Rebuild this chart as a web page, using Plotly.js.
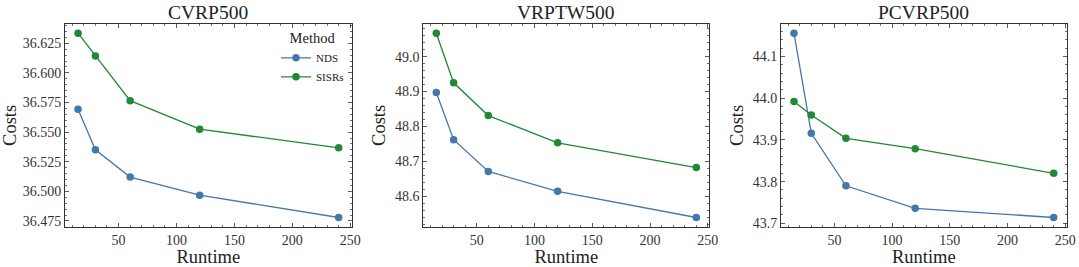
<!DOCTYPE html>
<html>
<head>
<meta charset="utf-8">
<script src="https://cdn.plot.ly/plotly-3.0.1.min.js"></script>
<style>html,body{margin:0;padding:0;background:#fff;}#chart{width:1079px;height:267px;}</style>
</head>
<body>
<div id="chart"></div>
<script>
const runtimes = [15, 30, 60, 120, 240];
const panelTitles = ["CVRP500", "VRPTW500", "PCVRP500"];
const methods = ["NDS", "SISRs"];
const cvrpNDS   = [36.5692, 36.5350, 36.5120, 36.4967, 36.4779];
const cvrpSISRs = [36.6335, 36.6143, 36.5765, 36.5525, 36.5367];
const vrptwNDS   = [48.897, 48.762, 48.671, 48.614, 48.539];
const vrptwSISRs = [49.067, 48.925, 48.831, 48.753, 48.682];
const pcvrpNDS   = [44.156, 43.916, 43.790, 43.736, 43.714];
const pcvrpSISRs = [43.992, 43.960, 43.904, 43.879, 43.820];

const seriesByPanel = [[cvrpNDS, cvrpSISRs], [vrptwNDS, vrptwSISRs], [pcvrpNDS, pcvrpSISRs]];
const colors = ["#4477AA", "#228833"];
const FONT = "Liberation Serif";
const W = 1079, H = 267;

const xDomains = [[65/W, 351.7/W], [423.3/W, 709.3/W], [781/W, 1066.7/W]];
const yDomain = [1 - 226.7/H, 1 - 24/H];
const yFmt = [{dtick: 0.025, fmt: ".3f", minor: 0.005}, {dtick: 0.1, fmt: ".1f", minor: 0.02}, {dtick: 0.1, fmt: ".1f", minor: 0.02}];

const traces = [];
seriesByPanel.forEach((ser, p) => {
  ser.forEach((vals, m) => {
    traces.push({
      x: runtimes, y: vals, type: "scatter", mode: "lines+markers",
      name: methods[m], legendgroup: methods[m], showlegend: p === 0,
      xaxis: p === 0 ? "x" : "x" + (p + 1), yaxis: p === 0 ? "y" : "y" + (p + 1),
      line: {color: colors[m], width: 1.3},
      marker: {color: colors[m], size: 7.5}
    });
  });
});

function yRange(ser) {
  const all = ser[0].concat(ser[1]);
  const mn = Math.min(...all), mx = Math.max(...all), pad = (mx - mn) * 0.05;
  return [mn - pad, mx + pad];
}
const xmin = Math.min(...runtimes), xmax = Math.max(...runtimes), xpad = (xmax - xmin) * 0.05;

const layout = {
  width: W, height: H,
  margin: {l: 0, r: 0, t: 0, b: 0},
  paper_bgcolor: "#fff", plot_bgcolor: "#fff",
  font: {family: FONT, color: "#222", size: 14},
  showlegend: true,
  legend: {
    x: 349/W, xanchor: "right", y: 1 - 24.5/H, yanchor: "top",
    bgcolor: "rgba(0,0,0,0)", borderwidth: 0,
    font: {family: FONT, size: 11, color: "#222"},
    title: {text: "Method", side: "top center", font: {family: FONT, size: 14.5, color: "#222"}},
    tracegroupgap: 0, itemwidth: 30
  },
  annotations: []
};

for (let p = 0; p < 3; p++) {
  const sfx = p === 0 ? "" : String(p + 1);
  const common = {
    showgrid: false, zeroline: false, showline: true, linecolor: "#333", linewidth: 1,
    mirror: "allticks", ticks: "inside", ticklen: 4, tickwidth: 0.8, tickcolor: "#333",
    tickfont: {family: FONT, size: 14, color: "#333"}, automargin: false
  };
  layout["xaxis" + sfx] = Object.assign({}, common, {
    domain: xDomains[p], anchor: "y" + sfx,
    range: [xmin - xpad, xmax + xpad], tickmode: "linear", tick0: 0, dtick: 50,
    minor: {dtick: 10, ticks: "inside", ticklen: 2, tickcolor: "#333", tickwidth: 0.7},
    title: {text: "Runtime", font: {family: FONT, size: 18.5, color: "#222"}, standoff: 1}
  });
  layout["yaxis" + sfx] = Object.assign({}, common, {
    domain: yDomain, anchor: "x" + sfx,
    range: yRange(seriesByPanel[p]), tickmode: "linear", tick0: 0, dtick: yFmt[p].dtick, tickformat: yFmt[p].fmt,
    minor: {dtick: yFmt[p].minor, ticks: "inside", ticklen: 2, tickcolor: "#333", tickwidth: 0.7},
    title: {text: "Costs", font: {family: FONT, size: 18.5, color: "#222"}, standoff: 4}
  });
  layout.annotations.push({
    text: panelTitles[p], xref: "paper", yref: "paper",
    x: (xDomains[p][0] + xDomains[p][1]) / 2, y: 1 - 12/H, xanchor: "center", yanchor: "middle",
    showarrow: false, font: {family: FONT, size: 19.5, color: "#222"}
  });
}

Plotly.newPlot("chart", traces, layout, {displayModeBar: false, staticPlot: true});
</script>
</body>
</html>
